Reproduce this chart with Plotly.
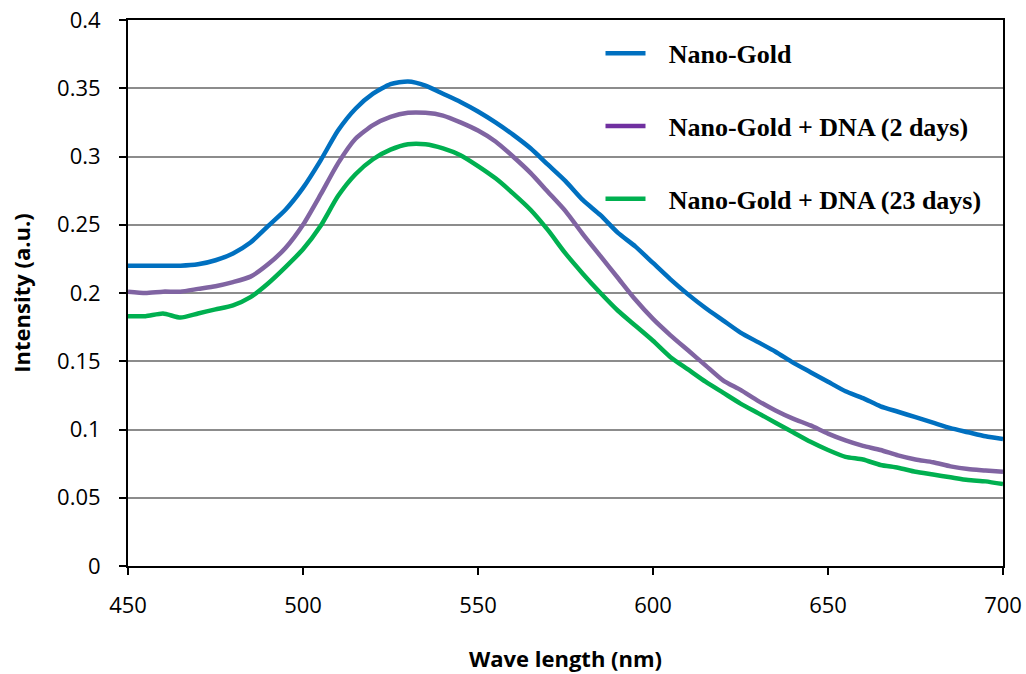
import plotly.graph_objects as go

# Absorption spectra (wavelength in nm, intensity in a.u.)
wavelength = list(range(450, 701, 5))

nano_gold = [
    0.220, 0.220, 0.220, 0.220, 0.221, 0.224, 0.229, 0.237, 0.249, 0.261,
    0.277, 0.297, 0.319, 0.335, 0.346, 0.353, 0.355, 0.352, 0.346, 0.340,
    0.333, 0.325, 0.316, 0.306, 0.294, 0.282, 0.268, 0.257, 0.244, 0.234,
    0.222, 0.210, 0.199, 0.189, 0.180, 0.171, 0.164, 0.157, 0.149, 0.142,
    0.135, 0.128, 0.123, 0.117, 0.113, 0.109, 0.105, 0.101, 0.098, 0.095,
    0.093,
]

gold_dna_2d = [
    0.201, 0.200, 0.201, 0.201, 0.203, 0.205, 0.208, 0.212, 0.221, 0.233,
    0.250, 0.272, 0.295, 0.313, 0.323, 0.329, 0.332, 0.332, 0.330, 0.325,
    0.319, 0.311, 0.300, 0.288, 0.274, 0.260, 0.243, 0.227, 0.211, 0.195,
    0.181, 0.169, 0.158, 0.147, 0.136, 0.129, 0.121, 0.114, 0.108, 0.103,
    0.097, 0.092, 0.088, 0.085, 0.081, 0.078, 0.076, 0.073, 0.071, 0.070,
    0.069,
]

gold_dna_23d = [
    0.183, 0.183, 0.185, 0.182, 0.185, 0.188, 0.191, 0.197, 0.207, 0.219,
    0.232, 0.249, 0.271, 0.287, 0.298, 0.305, 0.309, 0.309, 0.306, 0.301,
    0.293, 0.284, 0.273, 0.261, 0.246, 0.229, 0.214, 0.200, 0.187, 0.176,
    0.165, 0.153, 0.144, 0.135, 0.127, 0.119, 0.112, 0.105, 0.098, 0.091,
    0.085, 0.080, 0.078, 0.074, 0.072, 0.069, 0.067, 0.065, 0.063, 0.062,
    0.060,
]

series = [
    ("Nano-Gold", nano_gold, "#0070C0", "#0070C0"),
    ("Nano-Gold + DNA (2 days)", gold_dna_2d, "#8064A2", "#7030A0"),
    ("Nano-Gold + DNA (23 days)", gold_dna_23d, "#00B050", "#00B050"),
]

fig = go.Figure()

for i, (name, values, line_color, key_color) in enumerate(series):
    fig.add_trace(go.Scatter(
        x=wavelength, y=values, mode="lines", name=name,
        line=dict(color=line_color, width=4.5, shape="spline", smoothing=0.6),
        showlegend=False,
    ))
    # legend key
    fig.add_trace(go.Scatter(
        x=[None], y=[None], mode="lines",
        name="\u00a0\u00a0\u2009<b>" + name + "</b>",
        line=dict(color=key_color, width=4.5),
        legendgroup=f"g{i}",
    ))

tick_font = dict(family="Open Sans, sans-serif", size=22, color="black")
title_font = dict(family="Open Sans, sans-serif", size=22, color="black")

axis_common = dict(
    showline=True, linecolor="black", linewidth=2, mirror=True,
    ticks="outside", ticklen=7, tickwidth=1.5, tickcolor="black",
    tickfont=tick_font, zeroline=False, automargin=False,
)

fig.update_xaxes(
    range=[450, 700], dtick=50, tick0=450, showgrid=False,
    ticklabelstandoff=12,
    title=dict(text="<b>Wave length (nm)</b>", standoff=33, font=title_font),
    **axis_common,
)
fig.update_yaxes(
    range=[0, 0.4], dtick=0.05, tick0=0,
    showgrid=True, gridcolor="#8C8C8C", gridwidth=1.5,
    ticklabelstandoff=14,
    title=dict(text="<b>Intensity (a.u.)</b>", standoff=20, font=title_font),
    **axis_common,
)

fig.update_layout(
    width=1026, height=674,
    margin=dict(l=128, r=23, t=20, b=108, autoexpand=False),
    paper_bgcolor="white", plot_bgcolor="white",
    legend=dict(
        x=0.54, y=0.982, xanchor="left", yanchor="top",
        bgcolor="rgba(0,0,0,0)",
        font=dict(family="Liberation Serif, Times New Roman, serif", size=26, color="black"),
        tracegroupgap=36,
        itemwidth=40,
    ),
)

fig.write_html("out.html")
